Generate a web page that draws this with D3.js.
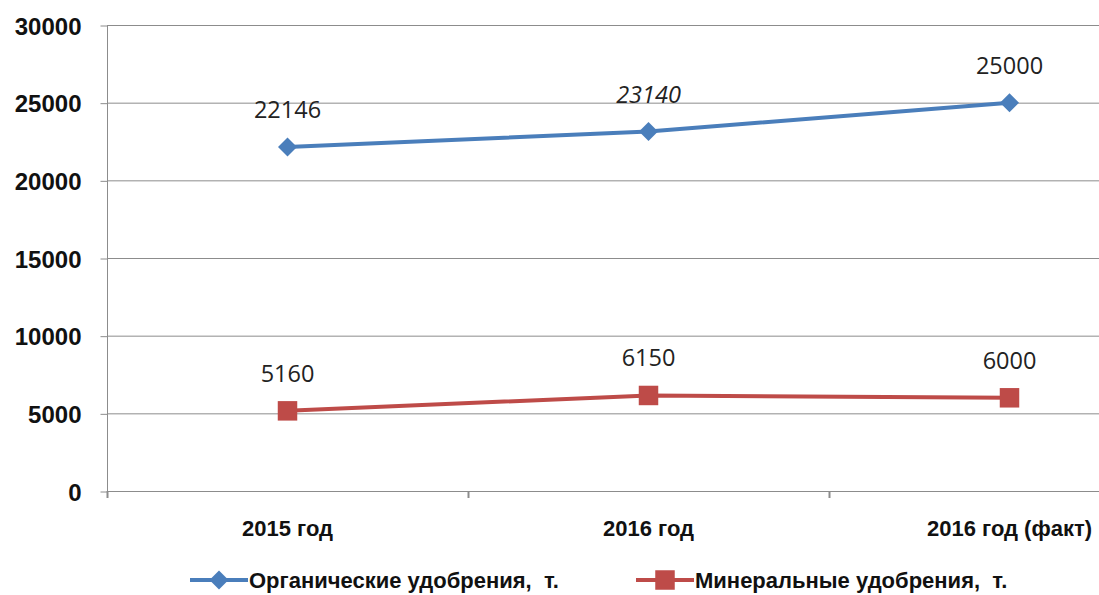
<!DOCTYPE html>
<html>
<head>
<meta charset="utf-8">
<script src="https://cdn.jsdelivr.net/npm/d3@7"></script>
<style>
  body { margin: 0; background: #fff; overflow: hidden; }
  svg { display: block; }
</style>
</head>
<body>
<div id="chart"></div>
<script>
/* global d3 */
"use strict";

// data
var categories = ["2015 год", "2016 год", "2016 год (факт)"];
var organic = [22146, 23140, 25000];
var mineral = [5160, 6150, 6000];
var yTicks = [0, 5000, 10000, 15000, 20000, 25000, 30000];
var seriesNames = ["Органические удобрения,  т.", "Минеральные удобрения,  т."];

const width = 1099,
      height = 595,
      plotLeft = 107,
      plotRight = 1190,   // plot runs past the right edge, as in the original
      plotTop = 25,
      plotBottom = 491,
      blue = "#4a7ebb",
      red = "#be4b48",
      grid = "#8c8c8c",
      diamondSize = 230,
      squareSize = 380;

var svg = d3.select("#chart").append("svg")
    .attr("width", width)
    .attr("height", height);

var x = d3.scaleBand().domain(categories).range([plotLeft, plotRight]);
var y = d3.scaleLinear().domain([0, 30000]).range([plotBottom, plotTop]);

// horizontal gridlines
svg.append("g").selectAll("line")
    .data(yTicks)
    .enter().append("line")
    .attr("x1", plotLeft).attr("x2", plotRight)
    .attr("y1", d => y(d) + 0.5).attr("y2", d => y(d) + 0.5)
    .attr("stroke", grid)
    .attr("stroke-width", 1);

// y axis
var yAxis = svg.append("g")
    .attr("transform", "translate(" + (plotLeft + 0.5) + ",0.5)")
    .call(d3.axisLeft(y).tickValues(yTicks).tickSize(7).tickPadding(19).tickFormat(d3.format("d")));
yAxis.select(".domain").remove();
yAxis.selectAll(".tick line").attr("stroke", grid);
yAxis.selectAll("text")
    .attr("fill", "#111")
    .style("font-family", "'Liberation Sans', Arial, sans-serif")
    .style("font-weight", "bold")
    .style("font-size", "24px")
    .attr("dy", "0.36em");
yAxis.append("line")
    .attr("x1", 0).attr("x2", 0)
    .attr("y1", plotTop).attr("y2", plotBottom + 6)
    .attr("stroke", grid);

// x axis ticks between categories
var xTicks = categories.map(c => x(c)).concat([plotRight]);
svg.append("g").selectAll("line")
    .data(xTicks)
    .enter().append("line")
    .attr("x1", d => d + 0.5).attr("x2", d => d + 0.5)
    .attr("y1", plotBottom).attr("y2", plotBottom + 7)
    .attr("stroke", grid)
    .attr("stroke-width", 2);

// category labels
svg.append("g").selectAll("text")
    .data(categories)
    .enter().append("text")
    .attr("x", d => x(d) + x.bandwidth() / 2)
    .attr("y", 536)
    .attr("text-anchor", "middle")
    .attr("fill", "#111")
    .style("font-family", "'Liberation Sans', Arial, sans-serif")
    .style("font-weight", "bold")
    .style("font-size", "22px")
    .text(d => d);

var line = d3.line()
    .x((d, i) => x(categories[i]) + x.bandwidth() / 2)
    .y(d => y(d));

function drawSeries(values, color, shape, size, italicIdx) {
    var g = svg.append("g");
    g.append("path")
        .datum(values)
        .attr("d", line)
        .attr("fill", "none")
        .attr("stroke", color)
        .attr("stroke-width", 4);
    g.selectAll(".mark")
        .data(values)
        .enter().append("path")
        .attr("class", "mark")
        .attr("transform", (d, i) => "translate(" + (x(categories[i]) + x.bandwidth() / 2) + "," + y(d) + ")")
        .attr("d", d3.symbol().type(shape).size(size))
        .attr("fill", color);
    g.selectAll(".lbl")
        .data(values)
        .enter().append("text")
        .attr("class", "lbl")
        .attr("x", (d, i) => x(categories[i]) + x.bandwidth() / 2)
        .attr("y", d => y(d) - 29)
        .attr("text-anchor", "middle")
        .attr("fill", "#222")
        .style("font-family", "'Open Sans', 'Liberation Sans', sans-serif")
        .style("font-size", "23.5px")
        .style("font-style", (d, i) => i === italicIdx ? "italic" : "normal")
        .text(d => d);
}

drawSeries(organic, blue, d3.symbolDiamond2, diamondSize, 1);
drawSeries(mineral, red, d3.symbolSquare, squareSize, -1);

// legend
var legendItems = [
    {name: seriesNames[0], color: blue, shape: d3.symbolDiamond2, size: diamondSize, x: 190},
    {name: seriesNames[1], color: red, shape: d3.symbolSquare, size: squareSize, x: 636}
];
var legend = svg.append("g").selectAll("g")
    .data(legendItems)
    .enter().append("g")
    .attr("transform", d => "translate(" + d.x + ",580)");
legend.append("line")
    .attr("x1", 0).attr("x2", 58)
    .attr("stroke", d => d.color)
    .attr("stroke-width", 4);
legend.append("path")
    .attr("transform", "translate(29,0)")
    .attr("d", d => d3.symbol().type(d.shape).size(d.size)())
    .attr("fill", d => d.color);
legend.append("text")
    .attr("x", 59)
    .attr("y", 8)
    .attr("fill", "#111")
    .attr("xml:space", "preserve")
    .style("white-space", "pre")
    .style("font-family", "'Liberation Sans', Arial, sans-serif")
    .style("font-weight", "bold")
    .style("font-size", "22px")
    .text(d => d.name);
</script>
</body>
</html>
